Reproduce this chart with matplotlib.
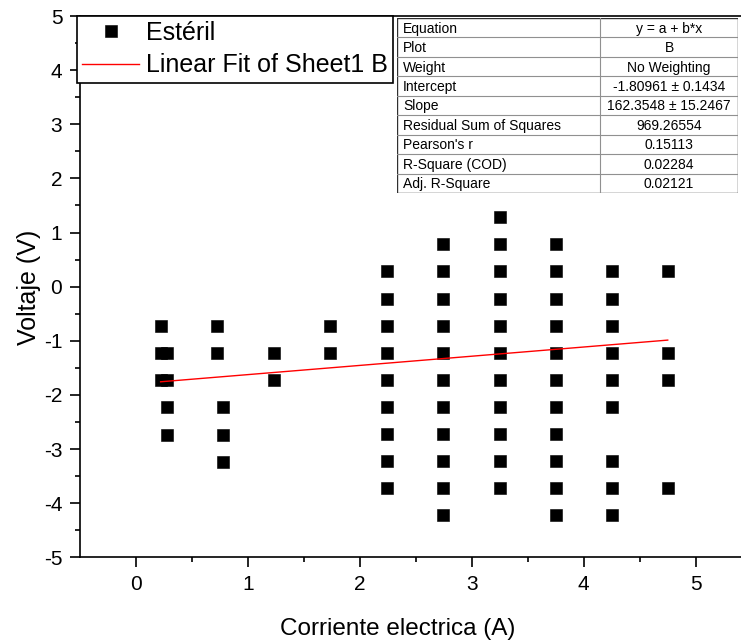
import numpy as np
import matplotlib
matplotlib.use("Agg")
import matplotlib.pyplot as plt
from matplotlib.patches import Rectangle

plt.rcParams['font.family'] = ['Liberation Sans', 'DejaVu Sans']
plt.rcParams['axes.unicode_minus'] = False

# columns of measured points (current in A, voltage in V)
x_cols = [0.22, 0.28, 0.72, 0.78, 1.23, 1.73, 2.24, 2.74, 3.25, 3.75, 4.25, 4.75]
y_cols = [
    [-0.72, -1.22, -1.73],
    [-1.22, -1.73, -2.23, -2.74],
    [-0.72, -1.22],
    [-2.23, -2.74, -3.24],
    [-1.22, -1.73],
    [-0.72, -1.22],
    [0.28, -0.22, -0.72, -1.22, -1.72, -2.22, -2.72, -3.22, -3.72],
    [0.78, 0.28, -0.22, -0.72, -1.22, -1.72, -2.22, -2.72, -3.22, -3.72, -4.22],
    [1.28, 0.78, 0.28, -0.22, -0.72, -1.22, -1.72, -2.22, -2.72, -3.22, -3.72],
    [0.78, 0.28, -0.22, -0.72, -1.22, -1.72, -2.22, -2.72, -3.22, -3.72, -4.22],
    [0.28, -0.22, -0.72, -1.22, -1.72, -2.22, -3.22, -3.72, -4.22],
    [0.28, -1.22, -1.72, -3.72],
]

# linear fit as it appears on the chart
fit_a = -1.795
fit_b = 0.170

tab_keys = ["Equation", "Plot", "Weight", "Intercept", "Slope",
            "Residual Sum of Squares", "Pearson's r", "R-Square (COD)", "Adj. R-Square"]
tab_vals = ["y = a + b*x", "B", "No Weighting", "-1.80961 \u00b1 0.1434",
            "162.3548 \u00b1 15.2467", "969.26554", "0.15113", "0.02284", "0.02121"]

xs = np.concatenate([[x] * len(ys) for x, ys in zip(x_cols, y_cols)])
ys = np.concatenate(y_cols)

W, H = 741, 641
fig = plt.figure(figsize=(W / 100, H / 100), dpi=100)
# axes runs past the right edge of the picture, like the cropped original
ax = fig.add_axes([80 / W, 1 - 557.3 / H, 671.7 / W, 541.3 / H])

ax.plot(xs, ys, 's', color='black', ms=8.2, mew=0.4, ls='none', label='Estéril')
xf = np.array([min(x_cols), max(x_cols)])
ax.plot(xf, fit_a + fit_b * xf, color='red', lw=1.0, label='Linear Fit of Sheet1 B')

ax.set_xlim(-0.5, 5.5)
ax.set_ylim(-5, 5)
ax.set_xticks(range(0, 6))
ax.set_xticks(np.arange(0.5, 5.5, 1), minor=True)
ax.set_yticks(range(-5, 6))
ax.set_yticks(np.arange(-4.5, 5, 1), minor=True)
ax.tick_params(which='major', direction='out', length=7.2, width=1.2, labelsize=15, pad=5.5)
ax.tick_params(which='minor', direction='out', length=3.6, width=1.2)
ax.tick_params(top=False, right=False)
for s in ax.spines.values():
    s.set_linewidth(1.2)

fig.text(29 / W, 1 - 287 / H, 'Voltaje (V)', rotation=90, ha='center', va='center', fontsize=18)
fig.text(398 / W, 1 - 635 / H, 'Corriente electrica (A)', ha='center', va='baseline', fontsize=17.5)

leg = ax.legend(loc='upper left', bbox_to_anchor=(77 / W, 1 - 16 / H),
                bbox_transform=fig.transFigure, fontsize=18, frameon=True, fancybox=False,
                edgecolor='black', framealpha=1, borderpad=0.2, labelspacing=0.34,
                handlelength=2.28, handletextpad=0.3, borderaxespad=0)
leg.get_frame().set_linewidth(1.2)

# fit results table
tx0, tx1, ty0, ty1 = 397, 738, 18, 193
tax = fig.add_axes([tx0 / W, 1 - ty1 / H, (tx1 - tx0) / W, (ty1 - ty0) / H])
tax.set_xlim(0, 1)
tax.set_ylim(len(tab_keys), 0)
tax.axis('off')
tax.add_patch(Rectangle((0, 0), 1, len(tab_keys), facecolor='white', edgecolor='none'))
split = (600 - tx0) / (tx1 - tx0)
for i, (k, v) in enumerate(zip(tab_keys, tab_vals)):
    tax.text(6 / (tx1 - tx0), i + 0.55, k, ha='left', va='center', fontsize=10)
    tax.text((split + 1) / 2, i + 0.55, v, ha='center', va='center', fontsize=10)
    if i > 0:
        tax.axhline(i, color='#909090', lw=0.8)
tax.axvline(split, color='#909090', lw=0.8)
tax.add_patch(Rectangle((0, 0), 1, len(tab_keys), facecolor='none', edgecolor='#303030', lw=1.0))

fig.savefig('out.png', dpi=100)
